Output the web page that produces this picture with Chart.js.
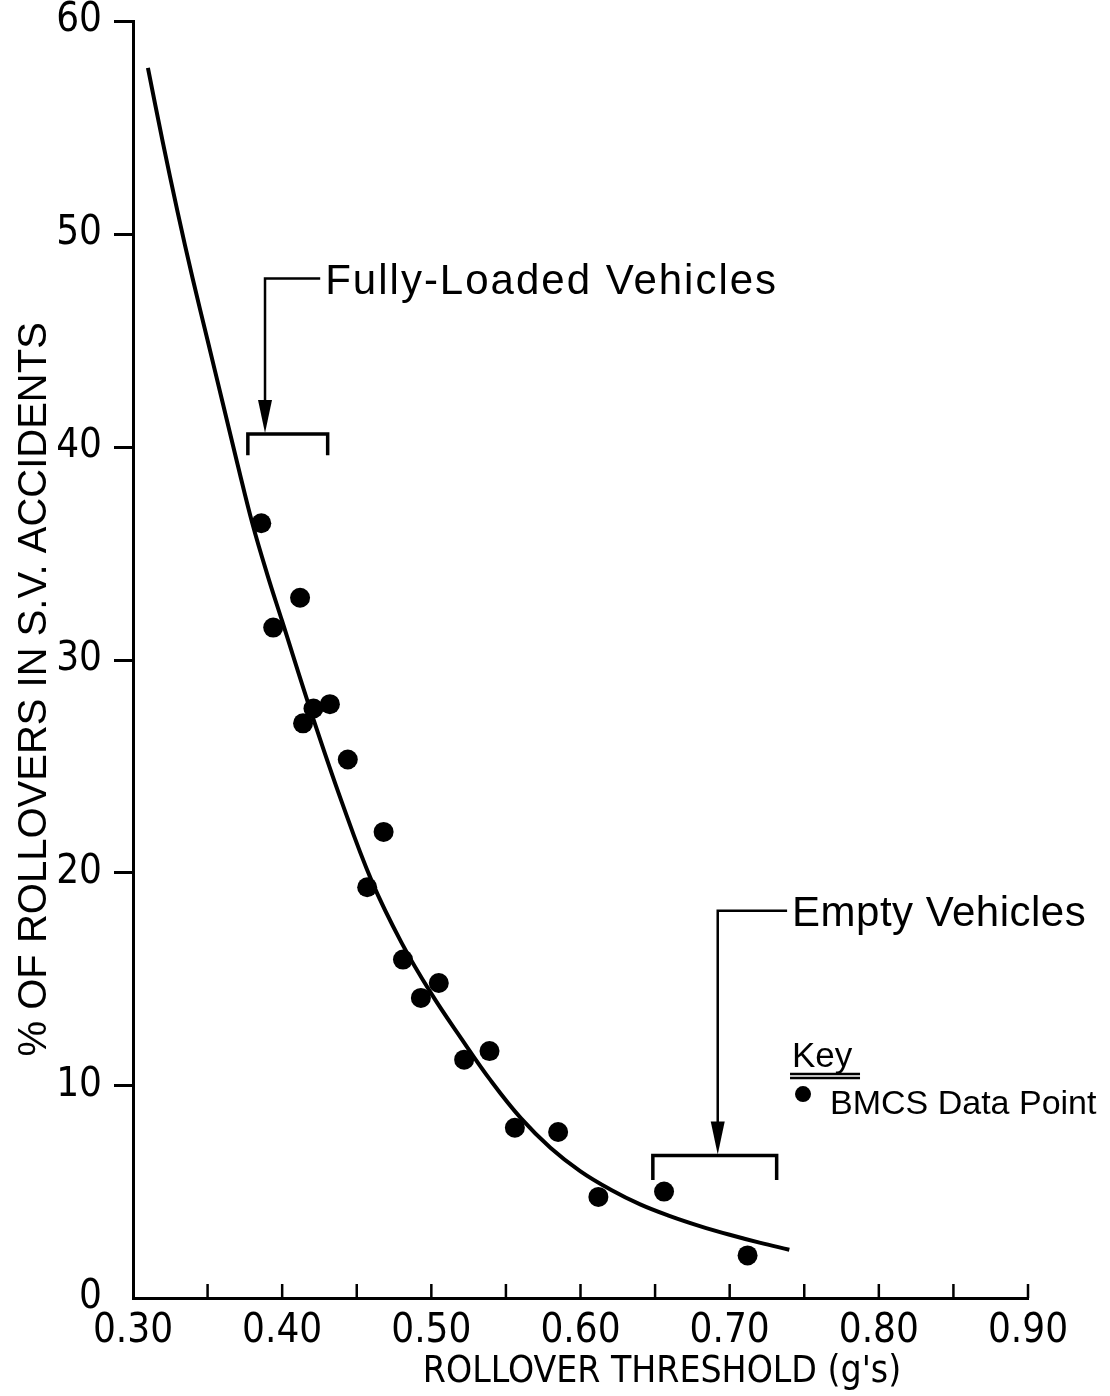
<!DOCTYPE html>
<html lang="en">
<head>
<meta charset="UTF-8">
<title>Rollover threshold vs. rollovers in S.V. accidents</title>
<script src="https://cdn.jsdelivr.net/npm/chart.js"></script>
<style>
    html, body { margin: 0; padding: 0; background: #ffffff; }
    #wrap { width: 1110px; height: 1396px; }
</style>
</head>
<body>
<div id="wrap"><canvas id="rollover" width="1110" height="1396"></canvas></div>
<script>
// fitted curve
const curveX = [0.31, 0.32, 0.33, 0.34, 0.35, 0.36, 0.37, 0.38, 0.39, 0.40, 0.42, 0.44, 0.46, 0.48,
                0.50, 0.52, 0.54, 0.56, 0.58, 0.60, 0.62, 0.64, 0.66, 0.68, 0.70, 0.72, 0.74];
const curveY = [57.8, 54.3, 51.0, 47.9, 45.0, 42.1, 39.2, 36.4, 34.0, 31.8, 27.4, 23.3, 19.6, 16.7,
                14.3, 12.2, 10.2, 8.45, 7.05, 5.95, 5.1, 4.4, 3.85, 3.38, 2.97, 2.6, 2.27];

// BMCS data points
const pointX = [0.386, 0.412, 0.394, 0.421, 0.432, 0.414, 0.444, 0.468, 0.457, 0.481,
                0.505, 0.493, 0.522, 0.539, 0.556, 0.585, 0.612, 0.656, 0.712];
const pointY = [36.4, 32.9, 31.5, 27.7, 27.9, 27.0, 25.3, 21.9, 19.3, 15.9,
                14.8, 14.1, 11.2, 11.6, 8.0, 7.8, 4.75, 5.0, 2.0];

const xTitle = "ROLLOVER THRESHOLD (g's)";
const yTitle = '% OF ROLLOVERS IN S.V. ACCIDENTS';
const keyTitle = 'Key';
const keyLabel = 'BMCS Data Point';

// bracket callouts, in data units
const callouts = [
    { text: 'Fully-Loaded Vehicles', x0: 0.377, x1: 0.4305, y: 40.6, legTo: 39.6,
      arrowX: 0.3885, leaderY: 47.9, leaderEnd: 0.4255, spacing: '2px' },
    { text: 'Empty Vehicles', x0: 0.6485, x1: 0.7315, y: 6.7, legTo: 5.55,
      arrowX: 0.692, leaderY: 18.2, leaderEnd: 0.7385, spacing: '0.5px' }
];
const keyAt = { x: 0.7418, y: 10.85 };

const sans = '"Liberation Sans", Arial, sans-serif';
const narrow = '"Liberation Sans Narrow", "Arial Narrow", "DejaVu Sans Condensed", "Liberation Sans", sans-serif';

const inkPlugin = {
    id: 'ink',
    afterDraw(chart) {
        const { ctx, chartArea } = chart;
        const x = chart.scales.x, y = chart.scales.y;
        ctx.save();
        ctx.strokeStyle = '#000';
        ctx.fillStyle = '#000';
        ctx.lineCap = 'butt';

        // small inward tick marks on the x axis
        ctx.lineWidth = 2.5;
        x.ticks.forEach(t => {
            if (t.value <= x.min + 1e-6) return;
            const px = x.getPixelForValue(t.value);
            ctx.beginPath();
            ctx.moveTo(px, chartArea.bottom);
            ctx.lineTo(px, chartArea.bottom - 14);
            ctx.stroke();
        });

        // outward tick marks on the y axis
        ctx.lineWidth = 3;
        y.ticks.forEach(t => {
            if (t.value <= y.min) return;
            const py = Math.round(y.getPixelForValue(t.value)) + 0.5;
            ctx.beginPath();
            ctx.moveTo(chartArea.left - 19, py);
            ctx.lineTo(chartArea.left + 1, py);
            ctx.stroke();
        });

        // callouts: bracket + arrow + label
        callouts.forEach(c => {
            const bx0 = x.getPixelForValue(c.x0), bx1 = x.getPixelForValue(c.x1);
            const by = y.getPixelForValue(c.y), leg = y.getPixelForValue(c.legTo);
            const ax = x.getPixelForValue(c.arrowX), ly = y.getPixelForValue(c.leaderY);
            const le = x.getPixelForValue(c.leaderEnd);

            ctx.lineWidth = 3.5;
            ctx.beginPath();
            ctx.moveTo(bx0, leg); ctx.lineTo(bx0, by); ctx.lineTo(bx1, by); ctx.lineTo(bx1, leg);
            ctx.stroke();

            ctx.lineWidth = 2.5;
            ctx.beginPath();
            ctx.moveTo(le, ly); ctx.lineTo(ax, ly); ctx.lineTo(ax, by - 28);
            ctx.stroke();
            ctx.beginPath();
            ctx.moveTo(ax, by - 1); ctx.lineTo(ax - 7, by - 34); ctx.lineTo(ax + 7, by - 34);
            ctx.closePath();
            ctx.fill();

            ctx.font = '42px ' + sans;
            ctx.letterSpacing = c.spacing;
            ctx.textAlign = 'left';
            ctx.textBaseline = 'alphabetic';
            ctx.fillText(c.text, le + 5, ly + 15);
            ctx.letterSpacing = '0px';
        });

        // key
        const kx = x.getPixelForValue(keyAt.x), ky = y.getPixelForValue(keyAt.y);
        ctx.font = '35px ' + sans;
        ctx.fillText(keyTitle, kx, ky);
        ctx.lineWidth = 2.5;
        [7, 11].forEach(d => {
            ctx.beginPath();
            ctx.moveTo(kx - 2, ky + d); ctx.lineTo(kx + 68, ky + d);
            ctx.stroke();
        });
        ctx.beginPath();
        ctx.arc(kx + 11, ky + 27, 8, 0, Math.PI * 2);
        ctx.fill();
        ctx.font = '34px ' + sans;
        ctx.fillText(keyLabel, kx + 38, ky + 47);

        // axis titles
        ctx.font = '37px ' + narrow;
        ctx.textAlign = 'center';
        ctx.textBaseline = 'middle';
        ctx.fillText(xTitle, 662, chartArea.bottom + 74);

        ctx.save();
        ctx.translate(35, y.getPixelForValue(28.6));
        ctx.rotate(-Math.PI / 2);
        ctx.font = '40px ' + sans;
        ctx.fillText(yTitle, 0, 0);
        ctx.restore();

        ctx.restore();
    }
};

new Chart(document.getElementById('rollover'), {
    type: 'scatter',
    data: {
        datasets: [
            {
                label: 'Fitted curve',
                data: curveX.map((v, i) => ({ x: v, y: curveY[i] })),
                showLine: true,
                borderColor: '#000',
                borderWidth: 4,
                pointRadius: 0,
                tension: 0.4,
                fill: false
            },
            {
                label: keyLabel,
                data: pointX.map((v, i) => ({ x: v, y: pointY[i] })),
                backgroundColor: '#000',
                borderWidth: 0,
                pointRadius: 10
            }
        ]
    },
    options: {
        responsive: false,
        devicePixelRatio: 1,
        animation: false,
        layout: { autoPadding: false, padding: { left: 0, top: 21, right: 82, bottom: 0 } },
        plugins: { legend: { display: false }, tooltip: { enabled: false } },
        scales: {
            x: {
                type: 'linear',
                min: 0.30,
                max: 0.90,
                afterFit: s => { s.height = 98; },
                grid: { display: false },
                border: { display: true, color: '#000', width: 3 },
                ticks: {
                    stepSize: 0.05,
                    autoSkip: false,
                    maxRotation: 0,
                    padding: 6,
                    color: '#000',
                    font: { family: narrow, size: 40, lineHeight: 1 },
                    callback: v => (Math.round(v * 100) % 10 === 0 ? v.toFixed(2) : '')
                }
            },
            y: {
                min: 0,
                max: 60,
                afterFit: s => { s.width = 133; },
                grid: {
                    drawOnChartArea: false,
                    drawTicks: true,
                    tickLength: 30,
                    color: 'rgba(0,0,0,0)'
                },
                border: { display: true, color: '#000', width: 3 },
                ticks: {
                    stepSize: 10,
                    padding: 1,
                    color: '#000',
                    font: { family: narrow, size: 40, lineHeight: 1 }
                }
            }
        }
    },
    plugins: [inkPlugin]
});
</script>
</body>
</html>
